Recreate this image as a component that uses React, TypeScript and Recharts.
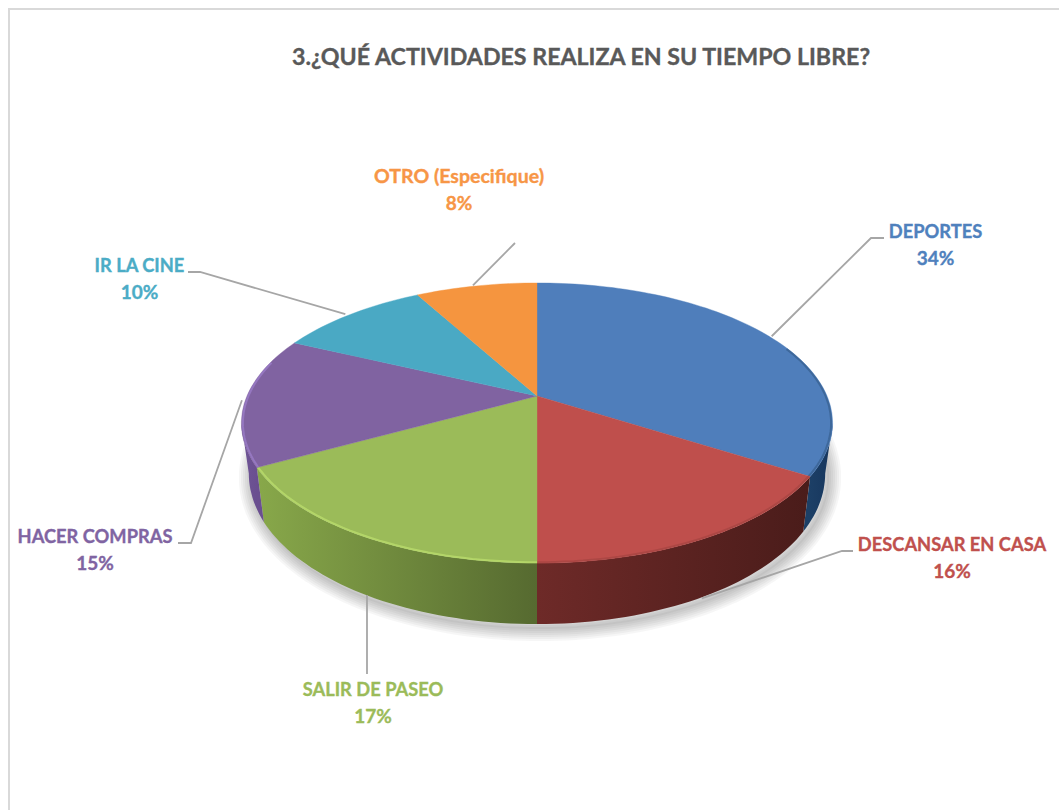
import React from "react";
import { PieChart, Pie } from "recharts";

const TITLE = "3.¿QUÉ ACTIVIDADES REALIZA EN SU TIEMPO LIBRE?";
const categories = ["DEPORTES", "DESCANSAR EN CASA", "SALIR DE PASEO", "HACER COMPRAS", "IR LA CINE", "OTRO (Especifique)"];
const seriesValues = [34, 16, 17, 15, 10, 8];

const chartData = categories.map((name, i) => ({ name, value: seriesValues[i] }));

const topColors = ["#4f7ebb", "#bf4f4c", "#9bbb59", "#8063a1", "#4aa9c4", "#f5953f"];
const textColors = ["#4f81bd", "#c0504d", "#9bbb59", "#8064a2", "#4bacc6", "#f79646"];
const rimColors = ["#3a6394", "#a84542", "#b9dc6c", "#9a7cc8", "#4aa9c4", "#f5953f"];
const wallStops = [
  ["#1c3f66", "#17365d"],
  ["#6e2a28", "#4a1c1a"],
  ["#88a84a", "#566a30"],
  ["#6f5596", "#6a4f90"],
  ["#356f80", "#356f80"],
  ["#a8652a", "#a8652a"],
];
const shadowWidths = [26, 22, 18, 14, 10, 6, 2];

// label placement: text centre, first baseline, elbow and end of the leader
const labelLayout: any[] = [
  { x: 935.5, y: 238, leader: [[871, 238], [884, 238]], onWall: false, dx: 1 },
  { x: 952, y: 551, leader: [[842, 551], [853, 551]], onWall: true, dx: 0 },
  { x: 373, y: 696, leader: [[367, 674]], onWall: true, dx: 3, straight: true },
  { x: 95, y: 543, leader: [[191, 543], [178, 543]], onWall: false, dx: -2 },
  { x: 139.5, y: 272, leader: [[200, 272], [188, 272]], onWall: false, dx: -4 },
  { x: 459, y: 183, leader: [[515, 243]], onWall: false, dx: -3, length: 170 },
];

const P = 0.193; // perspective strength
const KY = 0.465; // vertical squash of the disc
const SX = 0.975; // bottom disc horizontal scale

function project(cx: number, cy: number, r: number, u: number, v: number, bottom = false) {
  const d = 1 + P * v;
  let x = (r * u) / d;
  let y = -(r * KY * v) / d;
  if (bottom) {
    x *= SX;
    y += 48 + 13 * -v;
  }
  return [cx + x, cy + y];
}

function arcPoints(cx: number, cy: number, r: number, a0: number, a1: number, bottom = false) {
  const n = Math.max(2, Math.ceil(Math.abs(a1 - a0) / 1.5));
  const pts: number[][] = [];
  for (let i = 0; i <= n; i++) {
    const a = ((a0 + ((a1 - a0) * i) / n) * Math.PI) / 180;
    pts.push(project(cx, cy, r, Math.cos(a), Math.sin(a), bottom));
  }
  return pts;
}

const toPath = (pts: number[][]) => pts.map((p, i) => `${i ? "L" : "M"}${p[0].toFixed(1)} ${p[1].toFixed(1)}`).join(" ");

function Sector3D(props: any) {
  const { cx, cy, outerRadius: r, startAngle, endAngle } = props;
  const idx = categories.indexOf(props.name ?? props.payload?.name);
  const edge = arcPoints(cx, cy, r, startAngle, endAngle);
  const top = `M${cx} ${cy} ${toPath(edge).replace(/^M/, "L")} Z`;

  // Only the part of the rim that faces the viewer has a visible wall
  const hi = -11.1;
  const lo = -168.9;
  const w0 = Math.min(startAngle, hi);
  const w1 = Math.max(endAngle, lo);
  const hasWall = w0 > w1;
  const wallTop = hasWall ? arcPoints(cx, cy, r, w0, w1) : [];
  const wallBot = hasWall ? arcPoints(cx, cy, r, w0, w1, true) : [];
  const wall = hasWall ? `${toPath(wallTop)} ${toPath([...wallBot].reverse()).replace(/^M/, "L")} Z` : "";
  const xs = wallTop.map((p) => p[0]);
  const gid = `wall-${idx}`;
  const stops = wallStops[idx];

  // The bevel only shows on the front of the disc
  const r0 = Math.min(startAngle, 22);
  const r1 = Math.max(endAngle, -195);
  const hasRim = r0 > r1;
  const rim = hasRim ? arcPoints(cx, cy, r * 0.995, r0, r1) : [];

  return (
    <g>
      <defs>
        {hasWall && (
          <linearGradient id={gid} gradientUnits="userSpaceOnUse" x1={Math.min(...xs)} x2={Math.max(...xs)} y1="0" y2="0">
            <stop offset="0" stopColor={stops[0]} />
            <stop offset="1" stopColor={stops[1]} />
          </linearGradient>
        )}
      </defs>
      {hasWall && <path d={wall} fill={`url(#${gid})`} />}
      <path d={top} fill={topColors[idx]} stroke={topColors[idx]} strokeWidth={0.4} />
      {hasRim && <path d={toPath(rim)} fill="none" stroke={rimColors[idx]} strokeWidth={2} strokeOpacity={0.8} />}
    </g>
  );
}

const labelText = (index: number, size: number) => ({
  fontFamily: "Lato",
  fontWeight: 700,
  fontSize: size,
  fill: textColors[index],
  stroke: textColors[index],
  strokeWidth: 0.35,
  textAnchor: "middle" as const,
});

function renderLabel(props: any) {
  const { cx, cy, outerRadius: r, midAngle, percent, index, name } = props;
  const layout = labelLayout[index];
  const a = (midAngle * Math.PI) / 180;
  const p0 = project(cx, cy, r * 1.005, Math.cos(a), Math.sin(a), layout.onWall);
  const start = [layout.straight ? layout.leader[0][0] : p0[0] + layout.dx, p0[1]];
  const pts = [start, ...layout.leader].map((p: number[]) => p.join(",")).join(" ");
  return (
    <g key={name}>
      <polyline points={pts} fill="none" stroke="#a6a6a6" strokeWidth={1.8} />
      <text x={layout.x} y={layout.y} {...labelText(index, 18.3)} textLength={layout.length} lengthAdjust="spacingAndGlyphs">
        {name}
      </text>
      <text x={layout.x} y={layout.y + 26.5} {...labelText(index, 19)}>
        {`${Math.round(percent * 100)}%`}
      </text>
    </g>
  );
}

// The soft shadow is a separate backing layer behind the chart, following the disc outline
const shadowPath = `${toPath(arcPoints(537, 396, 290, 0, 360, true))} Z`;

export default function App() {
  return (
    <div style={{ position: "absolute", left: 0, top: 0, width: 1059, height: 810, overflow: "hidden", background: "#fff" }}>
      <div
        style={{
          position: "absolute",
          left: 8,
          top: 8,
          width: 1060,
          height: 820,
          borderLeft: "2px solid #d9d9d9",
          borderTop: "2px solid #d9d9d9",
        }}
      />
      <svg width={1059} height={810} style={{ position: "absolute", left: 0, top: 0 }}>
        <g transform="translate(3 4)">
          {shadowWidths.map((w) => (
            <path key={w} d={shadowPath} fill="none" stroke="#000" strokeOpacity={0.035} strokeWidth={w} strokeLinejoin="round" />
          ))}
        </g>
      </svg>
      <div style={{ position: "absolute", left: 0, top: 0 }}>
        <PieChart width={1059} height={810} margin={{ top: 0, right: 0, bottom: 0, left: 0 }}>
          <text x={581} y={65} textAnchor="middle" fontFamily="Lato" fontWeight={700} fontSize={23.2} fill="#595959" stroke="#595959" strokeWidth={0.35}>
            {TITLE}
          </text>
          <Pie
            data={chartData}
            dataKey="value"
            nameKey="name"
            cx={537}
            cy={396}
            innerRadius={0}
            outerRadius={290}
            startAngle={90}
            endAngle={-270}
            paddingAngle={0}
            stroke="none"
            isAnimationActive={false}
            shape={Sector3D}
            label={renderLabel}
            labelLine={false}
          />
        </PieChart>
      </div>
    </div>
  );
}
